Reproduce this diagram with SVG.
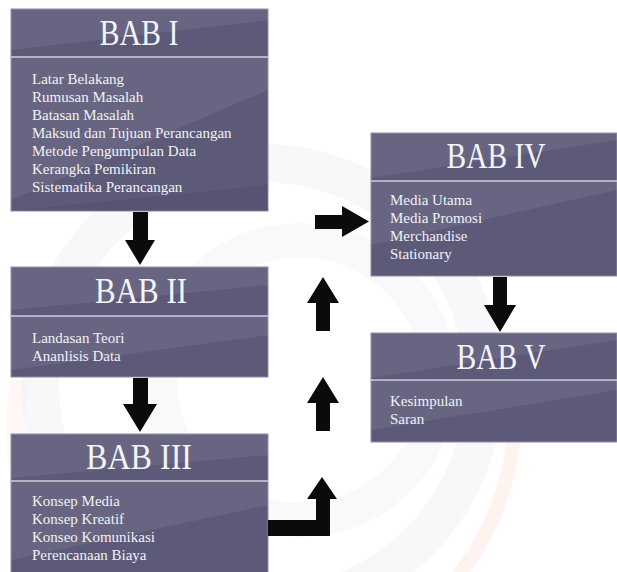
<svg xmlns="http://www.w3.org/2000/svg" width="617" height="572" viewBox="0 0 617 572">
  <style>
    .box { fill: #5c5a78; stroke: #8f8da6; stroke-width: 1; }
    .shade { fill: #ffffff; opacity: 0.07; }
    .dark { fill: #3c3a5e; opacity: 0.18; }
    .div { stroke: #cfcddb; stroke-width: 1.5; }
    .title { font-size: 35px; fill: #f4f3f8; text-anchor: middle; }
    .item { font-size: 15px; fill: #f2f1f6; }
    .arrow { fill: #0b0b0b; }
    .wm { fill: none; }
  </style>
  <rect width="617" height="572" fill="#ffffff"/>
  <g id="watermark">
    <circle class="wm" cx="262" cy="385" r="222" stroke="#eef1f5" stroke-width="38" opacity="0.5"/>
    <circle class="wm" cx="300" cy="380" r="140" stroke="#f2f4f7" stroke-width="34" opacity="0.5"/>
    <path class="wm" d="M 515 420 A 270 270 0 0 1 455 580" stroke="#fdeee8" stroke-width="14" opacity="0.7"/>
    <path class="wm" d="M 20 380 A 250 250 0 0 0 60 570" stroke="#fcede8" stroke-width="18" opacity="0.4"/>
  </g>

  <g font-family="'Liberation Serif', 'Times New Roman', Times, 'DejaVu Serif', serif">
  <g id="bab1">
    <rect class="box" x="11" y="9" width="257" height="202"/>
    <polygon class="shade" points="11,50 268,20 268,9 11,9" opacity="0.04"/>
    <polygon class="shade" points="11,200 268,90 268,57 11,57"/>
    <polygon class="dark" points="11,211 268,211 268,185 11,211"/>
    <line class="div" x1="11" y1="57" x2="268" y2="57"/>
    <text class="title" x="139" y="45" textLength="79" lengthAdjust="spacingAndGlyphs">BAB I</text>
    <text class="item" x="32" y="83.5">Latar Belakang</text>
    <text class="item" x="32" y="101.5">Rumusan Masalah</text>
    <text class="item" x="32" y="119.5">Batasan Masalah</text>
    <text class="item" x="32" y="137.5">Maksud dan Tujuan Perancangan</text>
    <text class="item" x="32" y="155.5">Metode Pengumpulan Data</text>
    <text class="item" x="32" y="173.5">Kerangka Pemikiran</text>
    <text class="item" x="32" y="191.5">Sistematika Perancangan</text>
  </g>

  <g id="bab2">
    <rect class="box" x="11" y="267" width="257" height="110"/>
    <polygon class="shade" points="11,310 268,285 268,267 11,267" opacity="0.04"/>
    <polygon class="shade" points="11,370 268,335 268,316 11,316"/>
    <line class="div" x1="11" y1="316" x2="268" y2="316"/>
    <text class="title" x="141" y="303" textLength="92" lengthAdjust="spacingAndGlyphs">BAB II</text>
    <text class="item" x="32" y="342.5">Landasan Teori</text>
    <text class="item" x="32" y="360.5">Ananlisis Data</text>
  </g>

  <g id="bab3">
    <rect class="box" x="11" y="434" width="257" height="142"/>
    <polygon class="shade" points="11,478 268,455 268,434 11,434" opacity="0.04"/>
    <polygon class="shade" points="11,560 268,505 268,481 11,481"/>
    <line class="div" x1="11" y1="481" x2="268" y2="481"/>
    <text class="title" x="139" y="469" textLength="106" lengthAdjust="spacingAndGlyphs">BAB III</text>
    <text class="item" x="32" y="506">Konsep Media</text>
    <text class="item" x="32" y="524">Konsep Kreatif</text>
    <text class="item" x="32" y="542">Konseo Komunikasi</text>
    <text class="item" x="32" y="560">Perencanaan Biaya</text>
  </g>

  <g id="bab4">
    <rect class="box" x="371" y="133" width="246" height="143"/>
    <polygon class="shade" points="371,178 617,140 617,133 371,133" opacity="0.04"/>
    <polygon class="shade" points="371,245 617,190 617,181 371,181"/>
    <line class="div" x1="371" y1="181" x2="617" y2="181"/>
    <text class="title" x="496" y="168" textLength="99" lengthAdjust="spacingAndGlyphs">BAB IV</text>
    <text class="item" x="390" y="205">Media Utama</text>
    <text class="item" x="390" y="223">Media Promosi</text>
    <text class="item" x="390" y="241">Merchandise</text>
    <text class="item" x="390" y="259">Stationary</text>
  </g>

  <g id="bab5">
    <rect class="box" x="371" y="333" width="246" height="109"/>
    <polygon class="shade" points="371,378 617,340 617,333 371,333" opacity="0.04"/>
    <polygon class="shade" points="371,430 617,390 617,380 371,380"/>
    <line class="div" x1="371" y1="380" x2="617" y2="380"/>
    <text class="title" x="501" y="369" textLength="89" lengthAdjust="spacingAndGlyphs">BAB V</text>
    <text class="item" x="390" y="406">Kesimpulan</text>
    <text class="item" x="390" y="424">Saran</text>
  </g>
  </g>

  <g id="connectors">
    <polygon class="arrow" points="133,212 148,212 148,240 155,240 140,265 125,240 133,240"/>
    <polygon class="arrow" points="133,378 148,378 148,404 157,404 140,432 123,404 133,404"/>
    <polygon class="arrow" points="315,215 342,215 342,206 369,221.5 342,237 342,229 315,229"/>
    <polygon class="arrow" points="316,331 316,303 307,303 323,277 339,303 330,303 330,331"/>
    <polygon class="arrow" points="316,431 316,403 307,403 323,377 339,403 330,403 330,431"/>
    <polygon class="arrow" points="268,520 316,520 316,499 307,499 322,477 337,499 330,499 330,536 268,536"/>
    <polygon class="arrow" points="493,277 507,277 507,305 516,305 500,332 484,305 493,305"/>
  </g>
</svg>
